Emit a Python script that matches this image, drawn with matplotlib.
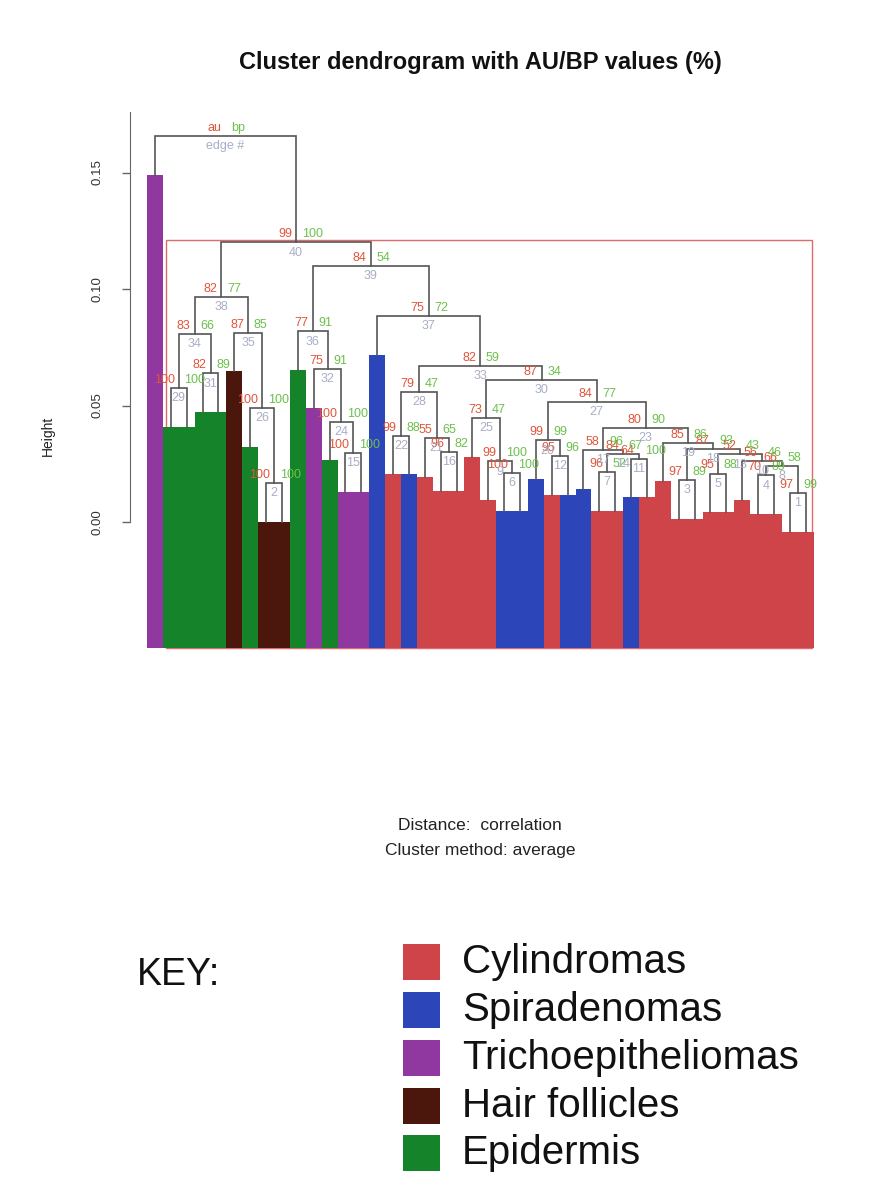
import matplotlib
matplotlib.use("Agg")
import matplotlib.pyplot as plt
from matplotlib.patches import Rectangle

plt.rcParams["font.family"] = ["Liberation Sans", "DejaVu Sans"]

# ── Data ──────────────────────────────────────────────────────────────────────

# leaf groups, left to right in dendrogram order
leaf_group = ["T", "E", "E", "E", "E", "H", "E", "H", "H", "E",
              "T", "E", "T", "T", "S", "C", "S", "C", "C", "C",
              "C", "C", "S", "S", "S", "C", "S", "S", "C", "C",
              "S", "C", "C", "C", "C", "C", "C", "C", "C", "C",
              "C", "C"]

group_keys   = ["C", "S", "T", "H", "E"]
group_names  = ["Cylindromas", "Spiradenomas", "Trichoepitheliomas",
                "Hair follicles", "Epidermis"]
group_colors = ["#CF4448", "#2C45B8", "#9137A0", "#4B170D", "#14832A"]

# hclust-style merges: negative = leaf (position), positive = earlier row
merge_a = [-41, -8, -34, -39, -36, -23, -29, 4, -22, -38,
           -31, -26, 5, 7, -13, -19, -28, 3, -33, -25,
           -18, -16, 17, -12, -21, -7, 20, 22, -2, 25,
           -4, -11, 28, 29, -6, -10, -15, 34, 36, 38,
           -1]
merge_b = [-42, -9, -35, -40, -37, -24, -30, 1, 6, 8,
           -32, -27, 10, 11, -14, -20, 14, 13, 18, 12,
           16, -17, 19, 15, 9, 2, 23, 21, -3, 27,
           -5, 24, 30, 31, 26, 32, 33, 35, 37, 39,
           40]
heights = [0.0124, 0.0167, 0.0180, 0.0200, 0.0208, 0.0212, 0.0214, 0.0240, 0.0260, 0.0262,
           0.0272, 0.0283, 0.0290, 0.0292, 0.0296, 0.0300, 0.0308, 0.0312, 0.0340, 0.0350,
           0.0360, 0.0370, 0.0403, 0.0430, 0.0446, 0.0490, 0.0515, 0.0558, 0.0575, 0.0610,
           0.0638, 0.0657, 0.0670, 0.0806, 0.0812, 0.0818, 0.0884, 0.0966, 0.1099, 0.1200,
           0.1657]
au_vals = [97, 100, 97, 70, 95, 100, 96, 66, 99, 56,
           64, 95, 52, 84, 100, 96, 58, 87, 85, 99,
           55, 99, 80, 100, 73, 100, 84, 79, 100, 87,
           82, 75, 82, 83, 87, 77, 75, 82, 84, 99]
bp_vals = [99, 100, 89, 89, 88, 100, 52, 58, 100, 46,
           100, 96, 43, 67, 100, 82, 96, 93, 86, 99,
           65, 88, 90, 100, 47, 100, 77, 47, 100, 34,
           89, 91, 59, 66, 85, 91, 72, 77, 54, 100]

y_ticks = [0.00, 0.05, 0.10, 0.15]

# ── Style ─────────────────────────────────────────────────────────────────────

LINE = "#555555"
AU   = "#E0553A"
BP   = "#6CC04C"
EDGE = "#A8AEC6"
RECT = "#E06A6A"
HANG = 0.0166
BASE = -0.054
FS   = 9

W, H = 880, 1196
fig = plt.figure(figsize=(W / 100, H / 100), dpi=100, facecolor="white")


def fy(py):
    return 1 - py / H


ax = fig.add_axes([130 / W, fy(660), 700 / W, 560 / H])
ax.set_xlim(-0.5753, 43.533)
ax.set_ylim(-0.05923, 0.18112)

# ── Dendrogram ────────────────────────────────────────────────────────────────

color_of = dict(zip(group_keys, group_colors))
node_x = {}
leaf_parent_h = {}

for k, (a, b, h) in enumerate(zip(merge_a, merge_b, heights), start=1):
    pts = []
    for c in (a, b):
        if c < 0:
            pts.append((-c, h - HANG))
            leaf_parent_h[-c] = h
        else:
            pts.append((node_x[c], heights[c - 1]))
    (xa, ya), (xb, yb) = pts
    node_x[k] = (xa + xb) / 2
    ax.plot([xa, xa, xb, xb], [ya, h, h, yb], color=LINE, lw=1.2,
            solid_joinstyle="miter", zorder=3)

    xm = node_x[k]
    if k < len(heights):
        txt = (str(au_vals[k - 1]), str(bp_vals[k - 1]), str(k))
    else:
        txt = ("au", "bp", "edge #")
    ax.annotate(txt[0], (xm, h), xytext=(-3, 1.5), textcoords="offset points",
                ha="right", va="bottom", color=AU, fontsize=FS, zorder=4)
    ax.annotate(txt[1], (xm, h), xytext=(4, 1.5), textcoords="offset points",
                ha="left", va="bottom", color=BP, fontsize=FS, zorder=4)
    ax.annotate(txt[2], (xm, h), xytext=(0, -3), textcoords="offset points",
                ha="center", va="top", color=EDGE, fontsize=FS, zorder=4)

# coloured leaf bars
for i, g in enumerate(leaf_group, start=1):
    top = leaf_parent_h[i] - HANG
    ax.bar(i, top - BASE, bottom=BASE, width=1.0, color=color_of[g],
           linewidth=0, zorder=2)

# highlighted cluster rectangle (edge 40)
ax.add_patch(Rectangle((1.7, BASE), 42.4 - 1.7, heights[39] + 0.001 - BASE,
                       fill=False, ec=RECT, lw=1.0, zorder=1))

# ── Axes ──────────────────────────────────────────────────────────────────────

for s in ("top", "right", "bottom"):
    ax.spines[s].set_visible(False)
ax.spines["left"].set_bounds(0, 0.176)
ax.spines["left"].set_color("#666666")
ax.set_xticks([])
ax.set_yticks(y_ticks)
ax.set_yticklabels([f"{v:.2f}" for v in y_ticks], rotation=90, va="center")
ax.tick_params(axis="y", direction="out", length=6, width=1, colors="#666666",
               labelcolor="#333333", labelsize=9.5, pad=13)
ax.patch.set_alpha(0)

fig.text(48 / W, fy(436), "Height", rotation=90, ha="center", va="center",
         fontsize=10, color="#222222")
fig.text(480 / W, fy(63), "Cluster dendrogram with AU/BP values (%)",
         ha="center", va="center", fontsize=17, fontweight="bold", color="#111111")
fig.text(480 / W, fy(826), "Distance:  correlation", ha="center", va="center",
         fontsize=12.5, color="#222222")
fig.text(480 / W, fy(850), "Cluster method: average", ha="center", va="center",
         fontsize=12.5, color="#222222")

# ── Key ───────────────────────────────────────────────────────────────────────

fig.text(137 / W, fy(975), "KEY:", ha="left", va="center", fontsize=27,
         color="#111111")
row_y = [962, 1010, 1058, 1106, 1153]
for name, col, py in zip(group_names, group_colors, row_y):
    fig.add_artist(Rectangle((403 / W, fy(py + 18)), 37 / W, 36 / H,
                             transform=fig.transFigure, color=col, lw=0))
    fig.text(462 / W, fy(py), name, ha="left", va="center", fontsize=29,
             color="#111111")

fig.savefig("out.png", dpi=100, facecolor="white")
